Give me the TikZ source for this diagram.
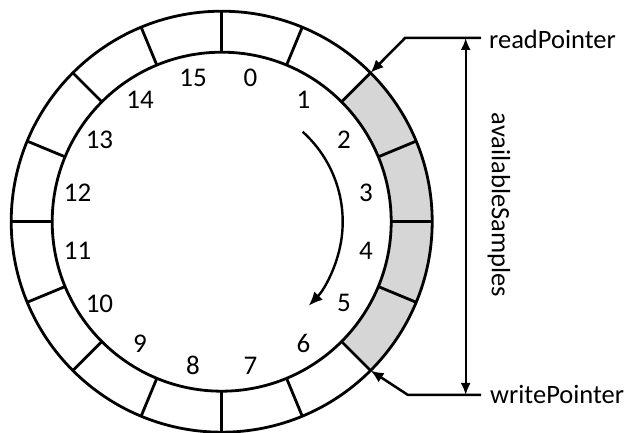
\documentclass[tikz,border=0pt]{standalone}
\usepackage{fontspec}
\setmainfont{Carlito}
\usetikzlibrary{arrows.meta}
\begin{document}
\begin{tikzpicture}[x=1pt,y=1pt,
  ringline/.style={line width=2.8pt},
  lbl/.style={font=\fontsize{26.5}{30}\selectfont, inner sep=0pt},
  idx/.style={font=\fontsize{27}{30}\selectfont, inner sep=0pt},
  ptr/.style={line width=2.5pt, -{Latex[length=13pt,width=11pt]}},
  dimarrow/.style={line width=2.2pt, {Latex[length=12pt,width=10pt]}-{Latex[length=12pt,width=10pt]}},
  turn/.style={line width=2.4pt, -{Latex[length=14pt,width=12pt]}},
  cellfill/.style={fill=black!16},
]
\useasboundingbox (0,0) rectangle (630,433);
\coordinate (C) at (221.7,211.3);
% shaded cells 2..5
\fill[cellfill] ([shift={(45:210.5)}]C) arc[start angle=45,end angle=-45,radius=210.5]
  -- ([shift={(-45:169.5)}]C) arc[start angle=-45,end angle=45,radius=169.5] -- cycle;
% ring
\draw[ringline] (C) circle[radius=210.5];
\draw[ringline] (C) circle[radius=169.5];
\foreach \a in {0,22.5,...,337.5}
  \draw[ringline] ([shift={(\a:169.5)}]C) -- ([shift={(\a:210.5)}]C);
% index labels
\foreach \i in {0,...,15}
  \node[idx] (n\i) at ([shift={({78.75-22.5*\i}:147)}]C) {\i};
% turning arrow
\coordinate (t0) at ([shift={(48:121)}]C);
\draw[turn] (t0) arc[start angle=48,end angle=-44,radius=121];
% pointers
\coordinate (rp) at ([shift={(45:210.5)}]C);
\coordinate (wp) at ([shift={(-45:210.5)}]C);
\coordinate (rl) at (481,395);
\coordinate (rb) at (405,395);
\coordinate (wl) at (481,38);
\coordinate (wb) at (408,38);
\draw[ptr] (rl) -- (rb) -- (rp);
\draw[ptr] (wl) -- (wb) -- (wp);
\node[lbl, anchor=base west] (rtext) at (489,384.7) {readPointer};
\node[lbl, anchor=base west] (wtext) at (490,29.7) {writePointer};
% availableSamples
\coordinate (vt) at (465.7,395);
\coordinate (vb) at (465.7,38);
\draw[dimarrow] (vt) -- (vb);
\node[lbl, rotate=-90] (avs) at (499,228) {availableSamples};
\end{tikzpicture}
\end{document}
